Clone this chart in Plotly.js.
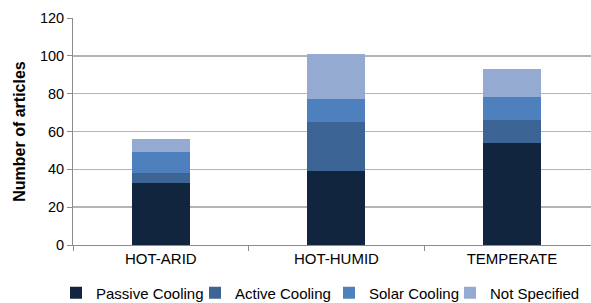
<!DOCTYPE html>
<html>
<head>
<meta charset="utf-8">
<script src="https://cdn.plot.ly/plotly-3.0.1.min.js"></script>
<style>
html,body{margin:0;padding:0;background:#fff;}
#chart{width:591px;height:303px;}
</style>
</head>
<body>
<div id="chart"></div>
<script>
const categories = ["HOT-ARID", "HOT-HUMID", "TEMPERATE"];
const seriesNames = ["Passive Cooling", "Active Cooling", "Solar Cooling", "Not Specified"];
const passiveCooling = [33, 39, 54];
const activeCooling = [5, 26, 12];
const solarCooling = [11, 12, 12];
const notSpecified = [7, 24, 15];
const yTicks = [0, 20, 40, 60, 80, 100, 120];

const colors = ["#12253f", "#3c6494", "#4e80bd", "#95aad1"];
const values = [passiveCooling, activeCooling, solarCooling, notSpecified];
const legendIds = ["legend", "legend2", "legend3", "legend4"];
const legendX = [68, 207, 341, 462];

const traces = values.map((v, i) => ({
  type: "bar",
  name: seriesNames[i],
  x: categories,
  y: v,
  width: 0.33,
  legend: legendIds[i],
  marker: {color: colors[i], line: {width: 0}},
  hoverinfo: "skip"
}));

const layout = {
  width: 591, height: 303,
  margin: {l: 73, r: 0, t: 18, b: 58},
  barmode: "stack",
  paper_bgcolor: "#ffffff",
  plot_bgcolor: "#ffffff",
  font: {family: "Liberation Sans, Arial, sans-serif", size: 15, color: "#000000"},
  xaxis: {
    type: "category",
    range: [-0.5, 2.45],
    tickson: "boundaries",
    ticks: "outside", ticklen: 5, tickcolor: "#8c8c8c", tickwidth: 1,
    showline: true, linecolor: "#8c8c8c", linewidth: 1,
    showgrid: false, zeroline: false,
    tickfont: {size: 15}
  },
  yaxis: {
    range: [0, 120],
    tickvals: yTicks,
    ticks: "outside", ticklen: 5, tickcolor: "#8c8c8c",
    showline: true, linecolor: "#8c8c8c", linewidth: 1,
    showgrid: true, gridcolor: "#b4b4b4", gridwidth: 1.5,
    zeroline: false,
    tickfont: {size: 14.5},
    title: {text: "<b>Number of articles</b>", font: {size: 16}, standoff: 10}
  },
  showlegend: true
};

legendIds.forEach((id, i) => {
  layout[id] = {
    orientation: "h",
    xref: "container", yref: "container",
    x: legendX[i] / 591, xanchor: "left",
    y: 1 - 293 / 303, yanchor: "middle",
    font: {size: 15},
    itemwidth: 30,
    indentation: -12,
    bgcolor: "rgba(0,0,0,0)"
  };
});

Plotly.newPlot("chart", traces, layout, {displayModeBar: false, staticPlot: true});
</script>
</body>
</html>
